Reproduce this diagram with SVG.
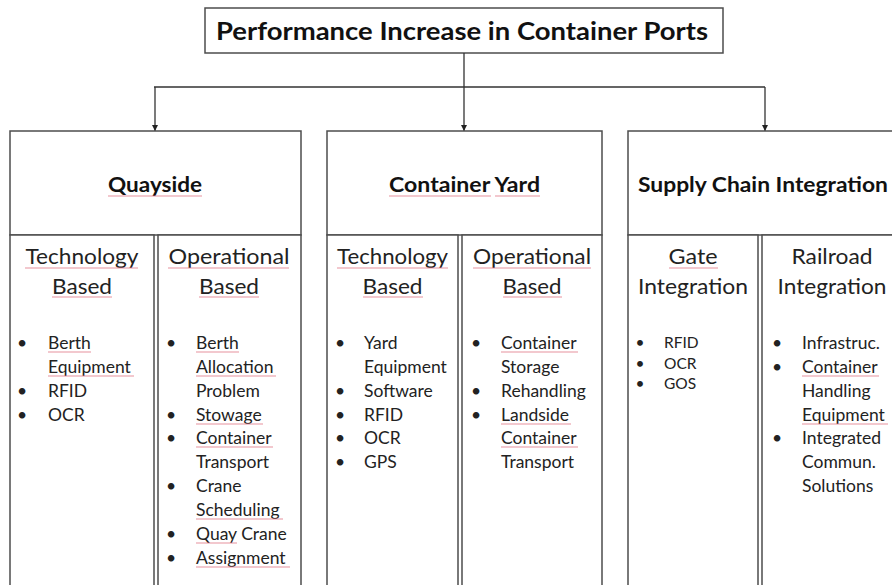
<svg xmlns="http://www.w3.org/2000/svg" width="892" height="585" viewBox="0 0 892 585">
<defs>
<marker id="ah" viewBox="0 0 10 10" refX="10" refY="5" markerWidth="6" markerHeight="6" markerUnits="userSpaceOnUse" orient="auto">
<path d="M0,0 L10,5 L0,10 z" fill="#222"/>
</marker>
<style>
.box{fill:#fff;stroke:#4d4d4d;stroke-width:1.5}
.con{fill:none;stroke:#333;stroke-width:1.3}
.t{font-family:Lato,"Liberation Sans",sans-serif;fill:#111}
.title{font-size:24px;font-weight:bold;text-anchor:middle}
.hd{font-size:21px;font-weight:bold;text-anchor:middle}
.sh{font-size:21.5px;text-anchor:middle;fill:#222}
.it{font-size:17.5px;fill:#222}
.gi{font-size:15.5px;fill:#222}
.bu{text-anchor:middle}
.sp{stroke:#e07585;stroke-width:1;fill:none;opacity:0.8}
</style>
</defs>
<rect width="892" height="585" fill="#fff"/>

<g id="title">
<rect class="box" x="205" y="8" width="518" height="45"/>
<text class="t title" x="462" y="40" textLength="492" lengthAdjust="spacingAndGlyphs">Performance Increase in Container Ports</text>
</g>

<g id="connectors">
<path class="con" d="M464,53 V87 M154,87 H765"/>
<path class="con" d="M155,87 V131" marker-end="url(#ah)"/>
<path class="con" d="M464,87 V131" marker-end="url(#ah)"/>
<path class="con" d="M765,87 V131" marker-end="url(#ah)"/>
</g>

<g id="quayside">
<rect class="box" x="10" y="131" width="291" height="104"/>
<text class="t hd" x="155" y="192" textLength="94" lengthAdjust="spacingAndGlyphs">Quayside</text>
<g id="quayside-tech">
<rect class="box" x="10" y="235" width="144" height="360"/>
<text class="t sh" x="82" y="264" textLength="113" lengthAdjust="spacingAndGlyphs">Technology</text>
<text class="t sh" x="82" y="294" textLength="60" lengthAdjust="spacingAndGlyphs">Based</text>
<g class="t it">
<text class="bu" x="22" y="349">•</text><text x="48" y="349">Berth</text>
<text x="48" y="373">Equipment</text>
<text class="bu" x="22" y="397">•</text><text x="48" y="397">RFID</text>
<text class="bu" x="22" y="421">•</text><text x="48" y="421">OCR</text>
</g>
</g>
<g id="quayside-op">
<rect class="box" x="158" y="235" width="143" height="360"/>
<text class="t sh" x="229" y="264" textLength="121" lengthAdjust="spacingAndGlyphs">Operational</text>
<text class="t sh" x="229" y="294" textLength="60" lengthAdjust="spacingAndGlyphs">Based</text>
<g class="t it">
<text class="bu" x="171" y="349">•</text><text x="196" y="349">Berth</text>
<text x="196" y="373">Allocation</text>
<text x="196" y="397">Problem</text>
<text class="bu" x="171" y="421">•</text><text x="196" y="421">Stowage</text>
<text class="bu" x="171" y="444">•</text><text x="196" y="444">Container</text>
<text x="196" y="468">Transport</text>
<text class="bu" x="171" y="492">•</text><text x="196" y="492">Crane</text>
<text x="196" y="516">Scheduling</text>
<text class="bu" x="171" y="540">•</text><text x="196" y="540">Quay Crane</text>
<text class="bu" x="171" y="564">•</text><text x="196" y="564">Assignment</text>
</g>
</g>
</g>

<g id="container-yard">
<rect class="box" x="327" y="131" width="275" height="104"/>
<text class="t hd" x="464.5" y="192" textLength="151" lengthAdjust="spacingAndGlyphs">Container Yard</text>
<g id="yard-tech">
<rect class="box" x="327" y="235" width="131" height="360"/>
<text class="t sh" x="392.5" y="264" textLength="111" lengthAdjust="spacingAndGlyphs">Technology</text>
<text class="t sh" x="392.5" y="294" textLength="60" lengthAdjust="spacingAndGlyphs">Based</text>
<g class="t it">
<text class="bu" x="340" y="349">•</text><text x="364" y="349">Yard</text>
<text x="364" y="373">Equipment</text>
<text class="bu" x="340" y="397">•</text><text x="364" y="397">Software</text>
<text class="bu" x="340" y="421">•</text><text x="364" y="421">RFID</text>
<text class="bu" x="340" y="444">•</text><text x="364" y="444">OCR</text>
<text class="bu" x="340" y="468">•</text><text x="364" y="468">GPS</text>
</g>
</g>
<g id="yard-op">
<rect class="box" x="462" y="235" width="140" height="360"/>
<text class="t sh" x="532" y="264" textLength="118" lengthAdjust="spacingAndGlyphs">Operational</text>
<text class="t sh" x="532" y="294" textLength="59" lengthAdjust="spacingAndGlyphs">Based</text>
<g class="t it">
<text class="bu" x="476" y="349">•</text><text x="501" y="349">Container</text>
<text x="501" y="373">Storage</text>
<text class="bu" x="476" y="397">•</text><text x="501" y="397">Rehandling</text>
<text class="bu" x="476" y="421">•</text><text x="501" y="421">Landside</text>
<text x="501" y="444">Container</text>
<text x="501" y="468">Transport</text>
</g>
</g>
</g>

<g id="supply-chain">
<rect class="box" x="628" y="131" width="274" height="104"/>
<text class="t hd" x="763" y="192" textLength="250" lengthAdjust="spacingAndGlyphs">Supply Chain Integration</text>
<g id="gate">
<rect class="box" x="628" y="235" width="130" height="360"/>
<text class="t sh" x="693" y="264" textLength="49" lengthAdjust="spacingAndGlyphs">Gate</text>
<text class="t sh" x="693" y="294" textLength="110" lengthAdjust="spacingAndGlyphs">Integration</text>
<g class="t gi">
<text class="bu" x="640" y="348">•</text><text x="664" y="348">RFID</text>
<text class="bu" x="640" y="369">•</text><text x="664" y="369">OCR</text>
<text class="bu" x="640" y="389">•</text><text x="664" y="389">GOS</text>
</g>
</g>
<g id="railroad">
<rect class="box" x="762" y="235" width="140" height="360"/>
<text class="t sh" x="832" y="264" textLength="81" lengthAdjust="spacingAndGlyphs">Railroad</text>
<text class="t sh" x="832" y="294" textLength="109" lengthAdjust="spacingAndGlyphs">Integration</text>
<g class="t it">
<text class="bu" x="777" y="349">•</text><text x="802" y="349">Infrastruc.</text>
<text class="bu" x="777" y="373">•</text><text x="802" y="373">Container</text>
<text x="802" y="397">Handling</text>
<text x="802" y="421">Equipment</text>
<text class="bu" x="777" y="444">•</text><text x="802" y="444">Integrated</text>
<text x="802" y="468">Commun.</text>
<text x="802" y="492">Solutions</text>
</g>
</g>
</g>

<g id="spellcheck">
<path class="sp" d="M108,196 H202 M25,268 H138 M52,297 H112 M168,268 H289 M199,297 H259
M48,352 H91 M48,376 H134 M196,352 H239 M196,376 H276 M196,424 H263 M196,447 H273 M196,519 H283 M196,543 H237 M196,567 H290
M389,196 H491 M495,196 H540 M337,268 H448 M363,297 H423 M473,268 H591 M503,297 H562
M501,352 H578 M501,424 H571 M501,447 H578
M669,268 H718 M802,376 H879 M802,424 H888"/>
</g>
</svg>
